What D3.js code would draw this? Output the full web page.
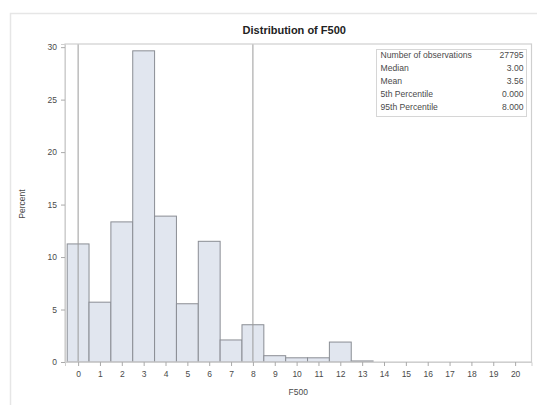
<!DOCTYPE html>
<html>
<head>
<meta charset="utf-8">
<script src="https://cdn.jsdelivr.net/npm/d3@7"></script>
<style>
  body { margin: 0; background: #fff; }
  text { font-family: "Liberation Sans", Arial, sans-serif; }
</style>
</head>
<body>
<div id="chart"></div>
<script>
// histogram bins (midpoints) and percent per bin
var bins = [0, 1, 2, 3, 4, 5, 6, 7, 8, 9, 10, 11, 12, 13];
var percents = [11.25, 5.7, 13.35, 29.65, 13.9, 5.55, 11.5, 2.1, 3.55, 0.6, 0.4, 0.4, 1.9, 0.1];
var xTicks = d3.range(0, 21);
var yTicks = [0, 5, 10, 15, 20, 25, 30];
var refLines = [0, 8];  // 5th and 95th percentile
var statLabels = ["Number of observations", "Median", "Mean", "5th Percentile", "95th Percentile"];
var statValues = ["27795", "3.00", "3.56", "0.000", "8.000"];

var W = 537, H = 405;
var margin = {top: 44, right: 5.5, bottom: 43, left: 65},
    width = W - margin.left - margin.right,
    height = H - margin.top - margin.bottom;

var svg = d3.select("#chart").append("svg")
    .attr("width", W).attr("height", H);

// outer frame
svg.append("rect")
    .attr("x", 10.5).attr("y", 13.5)
    .attr("width", 600).attr("height", 500)
    .attr("fill", "none").attr("stroke", "#e6e6e6").attr("stroke-width", 1.5);

var g = svg.append("g")
    .attr("transform", "translate(" + margin.left + "," + margin.top + ")");

var x = d3.scaleLinear().domain([-0.6, 20.75]).range([0, width]);
var y = d3.scaleLinear().domain([0, 30.3]).range([height, 0]);

// bars
g.selectAll(".bar")
  .data(bins)
  .enter()
  .append("rect")
    .attr("x", function(d) { return x(d - 0.5); })
    .attr("y", function(d, i) { return y(percents[i]); })
    .attr("width", function(d) { return x(d + 0.5) - x(d - 0.5); })
    .attr("height", function(d, i) { return height - y(percents[i]); })
    .attr("fill", "#e1e6ef")
    .attr("stroke", "#8a8d94")
    .attr("stroke-width", 1);

// percentile reference lines
g.selectAll(".ref")
  .data(refLines)
  .enter()
  .append("line")
    .attr("x1", function(d) { return x(d); })
    .attr("x2", function(d) { return x(d); })
    .attr("y1", 0).attr("y2", height)
    .attr("stroke", "#9a9a9a").attr("stroke-width", 1);

// plot frame
g.append("rect")
    .attr("x", 0).attr("y", 0)
    .attr("width", width).attr("height", height)
    .attr("fill", "none").attr("stroke", "#cfcfcf").attr("stroke-width", 1.2);

// axes
var xAxis = g.append("g")
    .attr("transform", "translate(0," + height + ")")
    .call(d3.axisBottom(x).tickValues(xTicks).tickSize(4).tickPadding(5).tickFormat(d3.format("d")));
var yAxis = g.append("g")
    .call(d3.axisLeft(y).tickValues(yTicks).tickSize(4).tickPadding(4));

[xAxis, yAxis].forEach(function(a) {
  a.select(".domain").attr("stroke", "#cfcfcf");
  a.selectAll(".tick line").attr("stroke", "#aaa");
  a.selectAll(".tick text")
    .attr("fill", "#4a4a4a")
    .style("font-size", "8.5px")
    .style("font-family", "'Liberation Sans', Arial, sans-serif");
});

// title
svg.append("text")
    .attr("x", margin.left + width / 2 - 4).attr("y", 34)
    .attr("text-anchor", "middle")
    .attr("fill", "#222")
    .style("font-size", "11px").style("font-weight", "bold")
    .text("Distribution of F500");

// axis labels
svg.append("text")
    .attr("x", margin.left + width / 2).attr("y", 395)
    .attr("text-anchor", "middle")
    .attr("fill", "#4a4a4a").style("font-size", "8.5px")
    .text("F500");

svg.append("text")
    .attr("transform", "translate(25," + (margin.top + 160) + ") rotate(-90)")
    .attr("text-anchor", "middle")
    .attr("fill", "#4a4a4a").style("font-size", "8.5px")
    .text("Percent");

// statistics inset
var inset = svg.append("g").attr("transform", "translate(376.5,49.5)");
inset.append("rect")
    .attr("width", 150).attr("height", 67)
    .attr("fill", "#fff").attr("stroke", "#d6d6d6");

inset.selectAll(".lab")
  .data(statLabels)
  .enter()
  .append("text")
    .attr("x", 4)
    .attr("y", function(d, i) { return 8.8 + i * 12.8; })
    .attr("fill", "#4a4a4a").style("font-size", "8.6px")
    .text(function(d) { return d; });

inset.selectAll(".val")
  .data(statValues)
  .enter()
  .append("text")
    .attr("x", 147)
    .attr("y", function(d, i) { return 8.8 + i * 12.8; })
    .attr("text-anchor", "end")
    .attr("fill", "#4a4a4a").style("font-size", "8.6px")
    .text(function(d) { return d; });
</script>
</body>
</html>
